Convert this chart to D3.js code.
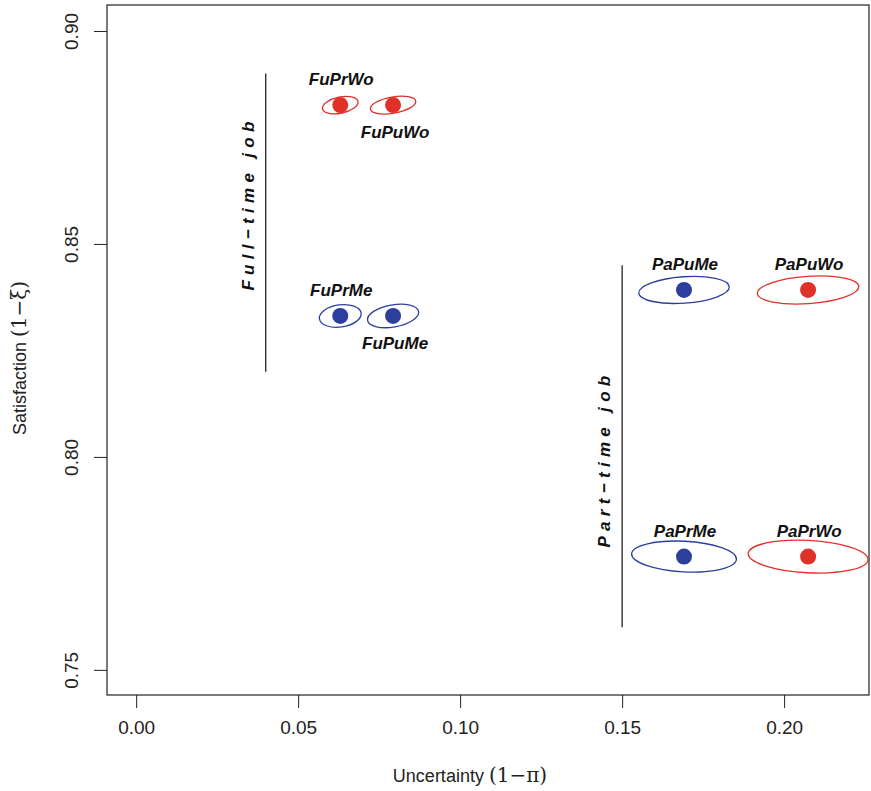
<!DOCTYPE html>
<html>
<head>
<meta charset="utf-8">
<script src="https://cdn.jsdelivr.net/npm/d3@7"></script>
<style>
  body { margin: 0; background: #fff; }
  text { font-family: "Liberation Sans", Arial, sans-serif; }
</style>
</head>
<body>
<svg id="chart" width="871" height="791"></svg>
<script>
// groups (job type / sector / gender)
const labels = ["FuPrWo", "FuPuWo", "FuPrMe", "FuPuMe", "PaPuMe", "PaPuWo", "PaPrMe", "PaPrWo"];
const uncertainty = [0.063, 0.0793, 0.063, 0.0793, 0.1691, 0.2074, 0.1691, 0.2074];
const satisfaction = [0.8826, 0.8826, 0.8331, 0.8331, 0.8392, 0.8392, 0.7766, 0.7766];
const gender = ["Wo", "Wo", "Me", "Me", "Me", "Wo", "Me", "Wo"];
// confidence ellipse half axes (data units) and tilt in degrees
const semiX = [0.0056, 0.0071, 0.0065, 0.0080, 0.0140, 0.0157, 0.0162, 0.0185];
const semiY = [0.0019, 0.0019, 0.0026, 0.0026, 0.0031, 0.0032, 0.0036, 0.0038];
const tilt = [-12, -10, -8, -10, -4, -4, 3, 3];
const labelPos = ["above", "below", "above", "below", "above", "above", "above", "above"];

const xTicks = [0.00, 0.05, 0.10, 0.15, 0.20];
const yTicks = [0.75, 0.80, 0.85, 0.90];

// group markers: vertical line + rotated caption
const groupNames = ["Full\u2212time  job", "Part\u2212time  job"];
const groupX = [0.04, 0.15];
const groupY0 = [0.82, 0.76];
const groupY1 = [0.89, 0.845];
const groupTextX = [0.0346, 0.1445];
const groupTextY = [0.8595, 0.7995];

const colors = { Wo: "#e03128", Me: "#2c3f9d" };

const svg = d3.select("#chart");
const mLeft = 107, mRight = 869, mTop = 5, mBottom = 695;

const x = d3.scaleLinear().domain([-0.009, 0.2262]).range([mLeft, mRight]);
const y = d3.scaleLinear().domain([0.7441, 0.9061]).range([mBottom, mTop]);

// box
svg.append("rect")
  .attr("x", mLeft).attr("y", mTop)
  .attr("width", mRight - mLeft).attr("height", mBottom - mTop)
  .attr("fill", "none").attr("stroke", "#222").attr("stroke-width", 1.2);

// x axis
const xAxis = svg.append("g")
  .attr("transform", `translate(0,${mBottom})`)
  .call(d3.axisBottom(x).tickValues(xTicks).tickFormat(d3.format(".2f")).tickSize(13).tickPadding(13));
xAxis.select(".domain").remove();
xAxis.selectAll("line").attr("stroke", "#222");
xAxis.selectAll("text").attr("font-size", 19).attr("fill", "#222")
  .style("font-family", '"Liberation Sans", Arial, sans-serif');

// y axis
const yAxis = svg.append("g")
  .attr("transform", `translate(${mLeft},0)`)
  .call(d3.axisLeft(y).tickValues(yTicks).tickFormat(d3.format(".2f")).tickSize(13).tickPadding(0));
yAxis.select(".domain").remove();
yAxis.selectAll("line").attr("stroke", "#222");
yAxis.selectAll("text")
  .attr("font-size", 19).attr("fill", "#222")
  .attr("x", null)
  .attr("text-anchor", "middle")
  .attr("transform", "translate(-36,0) rotate(-90)")
  .attr("dy", "0.35em")
  .style("font-family", '"Liberation Sans", Arial, sans-serif');

// axis titles
const xTitle = svg.append("text")
  .attr("x", 470).attr("y", 782)
  .attr("text-anchor", "middle")
  .attr("font-size", 18).attr("fill", "#222");
xTitle.append("tspan").text("Uncertainty  ");
xTitle.append("tspan").attr("font-family", "DejaVu Serif, serif").attr("font-size", 20).text("(1\u2212\u03c0)");

const yTitle = svg.append("text")
  .attr("transform", "translate(26,358) rotate(-90)")
  .attr("text-anchor", "middle")
  .attr("font-size", 18).attr("fill", "#222");
yTitle.append("tspan").text("Satisfaction  ");
yTitle.append("tspan").attr("font-family", "DejaVu Serif, serif").attr("font-size", 20).text("(1\u2212\u03be)");

// group lines
svg.selectAll(".grp-line")
  .data(groupNames)
  .join("line")
  .attr("x1", (d, i) => x(groupX[i])).attr("x2", (d, i) => x(groupX[i]))
  .attr("y1", (d, i) => y(groupY0[i])).attr("y2", (d, i) => y(groupY1[i]))
  .attr("stroke", "#111").attr("stroke-width", 1.2);

svg.selectAll(".grp-text")
  .data(groupNames)
  .join("text")
  .attr("transform", (d, i) => `translate(${x(groupTextX[i])},${y(groupTextY[i])}) rotate(-90)`)
  .attr("text-anchor", "middle")
  .attr("dy", "0.35em")
  .attr("font-size", 17)
  .attr("font-weight", "bold")
  .attr("font-style", "italic")
  .attr("letter-spacing", 5.3)
  .style("font-family", '"Liberation Sans", Arial, sans-serif')
  .attr("fill", "#111")
  .text(d => d);

// ellipses
const idx = d3.range(labels.length);
svg.selectAll(".ell")
  .data(idx)
  .join("ellipse")
  .attr("cx", 0).attr("cy", 0)
  .attr("rx", i => x(semiX[i]) - x(0))
  .attr("ry", i => y(0.8) - y(0.8 + semiY[i]))
  .attr("transform", i => `translate(${x(uncertainty[i])},${y(satisfaction[i])}) rotate(${tilt[i]})`)
  .attr("fill", "none")
  .attr("stroke", i => colors[gender[i]])
  .attr("stroke-width", 1.3);

// points
svg.selectAll(".pt")
  .data(idx)
  .join("circle")
  .attr("cx", i => x(uncertainty[i]))
  .attr("cy", i => y(satisfaction[i]))
  .attr("r", 8)
  .attr("fill", i => colors[gender[i]]);

// labels
svg.selectAll(".lab")
  .data(idx)
  .join("text")
  .attr("x", i => x(uncertainty[i]) + (labelPos[i] === "below" ? 2 : 1))
  .attr("y", i => y(satisfaction[i]) + (labelPos[i] === "below" ? 33 : -20))
  .attr("text-anchor", "middle")
  .attr("font-size", 17)
  .attr("font-weight", "bold")
  .attr("font-style", "italic")
  .style("font-family", '"Liberation Sans", Arial, sans-serif')
  .attr("fill", "#111")
  .text(i => labels[i]);
</script>
</body>
</html>
